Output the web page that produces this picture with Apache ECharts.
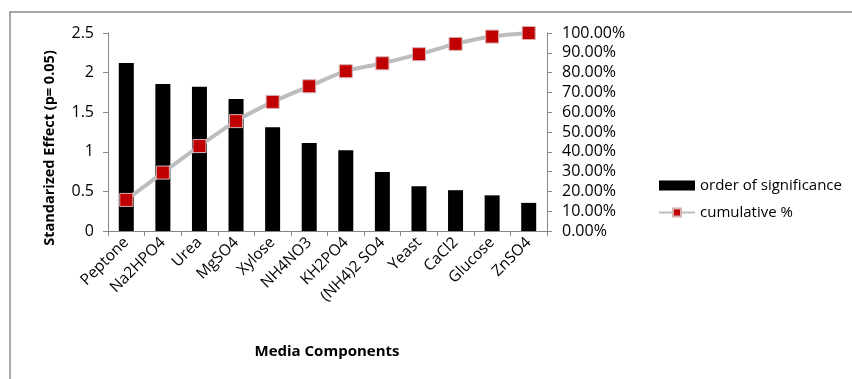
<!DOCTYPE html>
<html>
<head>
<meta charset="utf-8">
<script src="https://cdn.jsdelivr.net/npm/echarts@6/dist/echarts.min.js"></script>
<style>
  html, body { margin: 0; padding: 0; background: #fff; }
  #chart { width: 852px; height: 379px; }
</style>
</head>
<body>
<div id="chart"></div>
<script>
// Media components, ordered by standardized effect
const categories = ['Peptone', 'Na2HPO4', 'Urea', 'MgSO4', 'Xylose', 'NH4NO3',
  'KH2PO4', '(NH4)2 SO4', 'Yeast', 'CaCl2', 'Glucose', 'ZnSO4'];
const effects = [2.12, 1.855, 1.82, 1.667, 1.31, 1.11, 1.02, 0.745, 0.565, 0.515, 0.45, 0.355];
const cumulative = [15.7, 29.5, 42.9, 55.5, 65.2, 73.1, 80.7, 84.7, 89.3, 94.5, 98.2, 100];
const leftTicks = { min: 0, max: 2.5, interval: 0.5 };
const rightTicks = { min: 0, max: 100, interval: 10 };

const FONT = '"Open Sans", "Liberation Sans", sans-serif';
const AXIS_GRAY = '#868686';

const chart = echarts.init(document.getElementById('chart'), null, { renderer: 'canvas' });

chart.setOption({
  backgroundColor: '#ffffff',
  animation: false,
  textStyle: { fontFamily: FONT },
  graphic: [
    {
      type: 'rect',
      shape: { x: 10, y: 12, width: 900, height: 420 },
      style: { fill: 'none', stroke: '#8c8c8c', lineWidth: 1.5 },
      silent: true
    },
    {
      type: 'text',
      x: 50, y: 148,
      rotation: Math.PI / 2,
      style: {
        text: 'Standarized Effect (p= 0.05)',
        font: 'bold 14.5px ' + FONT,
        fill: '#000',
        align: 'center',
        verticalAlign: 'middle'
      }
    },
    {
      type: 'text',
      x: 327, y: 352,
      style: {
        text: 'Media Components',
        font: 'bold 15px ' + FONT,
        fill: '#000',
        align: 'center',
        verticalAlign: 'middle'
      }
    }
  ],
  grid: { left: 108, right: 305, top: 33, bottom: 148, containLabel: false },
  legend: {
    orient: 'vertical',
    left: 653,
    top: 173,
    itemGap: 12,
    itemWidth: 36,
    itemHeight: 10,
    textStyle: { fontSize: 15, color: '#000', fontFamily: FONT },
    data: [
      { name: 'order of significance', icon: 'rect' },
      { name: 'cumulative %' }
    ]
  },
  xAxis: {
    type: 'category',
    data: categories,
    axisLine: { show: true, lineStyle: { color: AXIS_GRAY, width: 1 } },
    axisTick: { show: true, length: 5, lineStyle: { color: AXIS_GRAY } },
    axisLabel: {
      interval: 0,
      rotate: 45,
      margin: 9,
      fontSize: 15.5,
      color: '#000',
      fontFamily: FONT
    }
  },
  yAxis: [
    {
      type: 'value',
      min: leftTicks.min,
      max: leftTicks.max,
      interval: leftTicks.interval,
      axisLine: { show: true, lineStyle: { color: AXIS_GRAY } },
      axisTick: { show: true, length: 5, lineStyle: { color: AXIS_GRAY } },
      splitLine: { show: false },
      axisLabel: { fontSize: 16, color: '#000', margin: 14, fontFamily: FONT }
    },
    {
      type: 'value',
      position: 'right',
      min: rightTicks.min,
      max: rightTicks.max,
      interval: rightTicks.interval,
      axisLine: { show: true, lineStyle: { color: AXIS_GRAY } },
      axisTick: { show: true, length: 5, lineStyle: { color: AXIS_GRAY } },
      splitLine: { show: false },
      axisLabel: {
        fontSize: 16, color: '#000', margin: 15, fontFamily: FONT,
        formatter: v => v.toFixed(2) + '%'
      }
    }
  ],
  series: [
    {
      name: 'order of significance',
      type: 'bar',
      data: effects,
      yAxisIndex: 0,
      barWidth: '41%',
      itemStyle: { color: '#000000' }
    },
    {
      name: 'cumulative %',
      type: 'line',
      data: cumulative,
      yAxisIndex: 1,
      smooth: 0.3,
      symbol: 'rect',
      symbolSize: 13,
      lineStyle: { color: '#bdbdbd', width: 4 },
      itemStyle: { color: '#c00000', borderColor: '#d8b0b0', borderWidth: 1 }
    }
  ]
});
</script>
</body>
</html>
